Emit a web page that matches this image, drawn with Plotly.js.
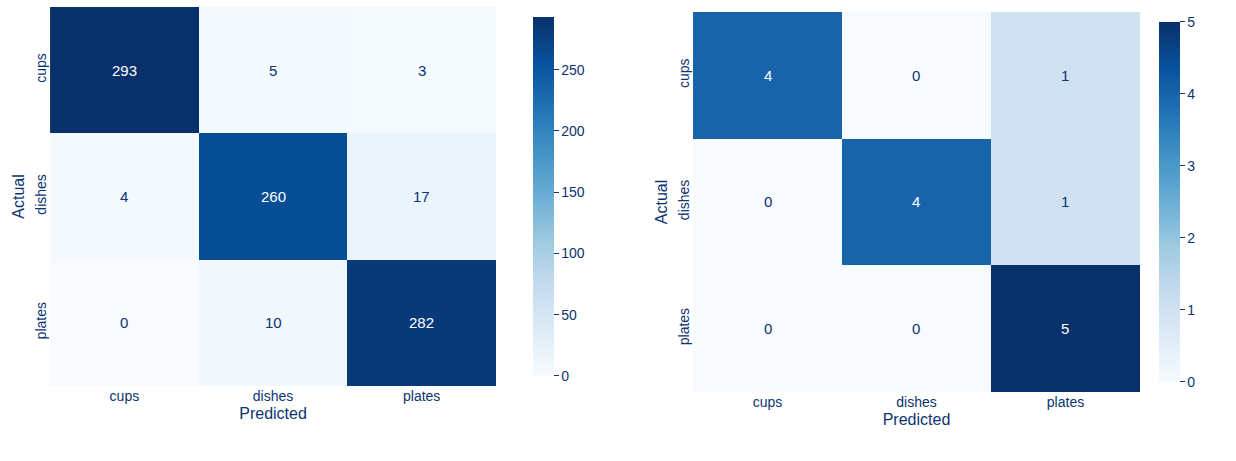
<!DOCTYPE html>
<html><head><script src="https://cdn.plot.ly/plotly-3.0.1.min.js"></script></head>
<body style="margin:0"><div id="c" style="width:1236px;height:461px"></div>
<script>
const classes = ["cups","dishes","plates"];
const cmLeft = [[293,5,3],[4,260,17],[0,10,282]];
const cmRight = [[4,0,1],[0,4,1],[0,0,5]];
const navy = "#0b3470";
const blues = ["#f7fbff","#deebf7","#c6dbef","#9ecae1","#6baed6","#4292c6","#2171b5","#08519c","#08306b"];
const cs = blues.map((c,i)=>[i/(blues.length-1),c]);
function hm(z,xa,ya,cbx,zmax,dtick){
  return {type:"heatmap",z:z,x:classes,y:classes,xaxis:xa,yaxis:ya,colorscale:cs,zmin:0,zmax:zmax,
    xgap:0,ygap:0,hoverinfo:"none",
    colorbar:{x:cbx,xanchor:"left",y:ya==="y"?0.1627:0.1497,yanchor:"bottom",len:ya==="y"?0.822:0.824,lenmode:"fraction",
      thickness:21,outlinewidth:0,ticks:"outside",ticklen:5,tickcolor:navy,dtick:dtick,tick0:0,
      tickfont:{family:"Liberation Sans, Arial",size:14,color:navy}}};
}
const ann=[];
function addAnn(z,xa,ya,zmax){
  z.forEach((row,i)=>row.forEach((v,j)=>ann.push({x:classes[j],y:classes[i],xref:xa,yref:ya,text:String(v),showarrow:false,
    font:{family:"Liberation Sans, Arial",size:15,color:v>zmax*0.5?"#ffffff":navy}})));
}
addAnn(cmLeft,"x","y",293); addAnn(cmRight,"x2","y2",5);
const tf={family:"Liberation Sans, Arial",size:14,color:navy};
const ax=(dom,anchor,title)=>({domain:dom,anchor:anchor,showgrid:false,zeroline:false,showline:false,ticks:"",tickfont:tf,
  title:{text:title,font:{family:"Liberation Sans, Arial",size:16,color:navy},standoff:4}});
const layout={width:1236,height:461,margin:{l:0,r:0,t:0,b:0},paper_bgcolor:"#fff",plot_bgcolor:"#fff",
  xaxis:ax([0.0405,0.4013],"y","Predicted"),
  yaxis:Object.assign(ax([0.1627,0.9848],"x","Actual"),{autorange:"reversed",tickangle:-90}),
  xaxis2:ax([0.5607,0.9223],"y2","Predicted"),
  yaxis2:Object.assign(ax([0.1497,0.974],"x2","Actual"),{autorange:"reversed",tickangle:-90}),
  annotations:ann,showlegend:false};
Plotly.newPlot("c",[hm(cmLeft,"x","y",0.4235,293,50),hm(cmRight,"x2","y2",0.9296,5,1)],layout,{displayModeBar:false});
</script></body></html>
